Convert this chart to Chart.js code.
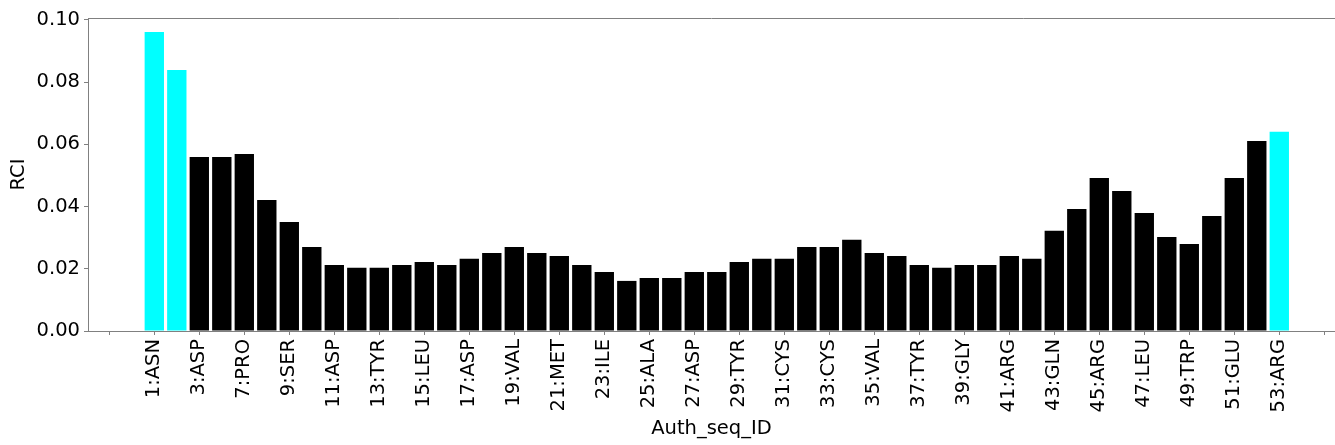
<!DOCTYPE html>
<html>
<head>
<meta charset="utf-8">
<script src="https://cdn.jsdelivr.net/npm/chart.js@4/dist/chart.umd.min.js"></script>
<style>
  html, body { margin: 0; padding: 0; background: #fff; }
  #rciChart { display: block; }
</style>
</head>
<body>
<canvas id="rciChart" width="1335" height="445"></canvas>
<script>
/* RCI per residue bar chart */
var rciValues = [
  0.0961, 0.0839, 0.0559, 0.0559, 0.0569, 0.0421, 0.0350, 0.0270, 0.0212, 0.0203,
  0.0203, 0.0212, 0.0222, 0.0212, 0.0232, 0.0251, 0.0270, 0.0251, 0.0241, 0.0212,
  0.0190, 0.0161, 0.0170, 0.0170, 0.0190, 0.0190, 0.0222, 0.0232, 0.0232, 0.0270,
  0.0270, 0.0293, 0.0251, 0.0241, 0.0212, 0.0203, 0.0212, 0.0212, 0.0241, 0.0232,
  0.0322, 0.0392, 0.0492, 0.0450, 0.0379, 0.0302, 0.0280, 0.0370, 0.0492, 0.0611,
  0.0640
];
// residues flagged in cyan (by bar index)
var highlighted = [0, 1, 50];
// labels shown on every other bar, starting at bar 0
var tickLabels = [
  '1:ASN', '3:ASP', '7:PRO', '9:SER', '11:ASP', '13:TYR', '15:LEU', '17:ASP',
  '19:VAL', '21:MET', '23:ILE', '25:ALA', '27:ASP', '29:TYR', '31:CYS', '33:CYS',
  '35:VAL', '37:TYR', '39:GLY', '41:ARG', '43:GLN', '45:ARG', '47:LEU', '49:TRP',
  '51:GLU', '53:ARG'
];
var xTicks = [];
for (var t = -2; t <= 52; t += 2) xTicks.push(t);
var yTicks = [0, 0.02, 0.04, 0.06, 0.08, 0.10];

var FONT = "'DejaVu Sans', sans-serif";
var FSIZE = 19.5;
var SPINE = '#808080';

var points = rciValues.map(function (v, i) { return { x: i, y: v }; });
var colors = rciValues.map(function (v, i) {
  return highlighted.indexOf(i) >= 0 ? '#00ffff' : '#000000';
});

var topSpine = {
  id: 'topSpine',
  afterDraw: function (chart) {
    var a = chart.chartArea, ctx = chart.ctx;
    ctx.save();
    ctx.strokeStyle = SPINE;
    ctx.lineWidth = 1;
    ctx.beginPath();
    ctx.moveTo(a.left, a.top + 0.5);
    ctx.lineTo(a.right, a.top + 0.5);
    ctx.stroke();
    ctx.restore();
  }
};

new Chart(document.getElementById('rciChart'), {
  type: 'bar',
  data: {
    datasets: [{
      data: points,
      backgroundColor: colors,
      borderWidth: 0,
      categoryPercentage: 1,
      barPercentage: 0.86
    }]
  },
  plugins: [topSpine],
  options: {
    responsive: false,
    animation: false,
    layout: { padding: { top: 18, left: 0, right: 0, bottom: 0 } },
    plugins: { legend: { display: false }, tooltip: { enabled: false } },
    scales: {
      x: {
        type: 'linear',
        min: -2.947,
        max: 52.476,
        offset: false,
        afterFit: function (s) {
          s.height = 114;
          s.paddingLeft = 0;
          s.paddingRight = 0;
        },
        afterBuildTicks: function (s) {
          s.ticks = xTicks.map(function (v) { return { value: v }; });
        },
        grid: { display: true, drawOnChartArea: false, offset: false, color: SPINE, tickLength: 4 },
        border: { display: true, color: SPINE, width: 1 },
        ticks: {
          autoSkip: false,
          maxRotation: 90,
          minRotation: 90,
          padding: 4,
          color: '#000',
          font: { family: FONT, size: FSIZE },
          callback: function (v) {
            var k = v / 2;
            return (v >= 0 && k < tickLabels.length) ? tickLabels[k] : '';
          }
        },
        title: { display: true, text: 'Auth_seq_ID', color: '#000', font: { family: FONT, size: FSIZE }, padding: { top: 0, bottom: 4 } }
      },
      y: {
        min: 0,
        max: 0.1006,
        afterFit: function (s) {
          s.width = 88;
          s.paddingTop = 0;
          s.paddingBottom = 0;
        },
        afterBuildTicks: function (s) {
          s.ticks = yTicks.map(function (v) { return { value: v }; });
        },
        grid: { display: true, drawOnChartArea: false, color: SPINE, tickLength: 4 },
        border: { display: true, color: SPINE, width: 1 },
        ticks: {
          padding: 4,
          color: '#000',
          font: { family: FONT, size: FSIZE },
          callback: function (v) { return v.toFixed(2); }
        },
        title: { display: true, text: 'RCI', color: '#000', font: { family: FONT, size: FSIZE }, padding: { top: 7, bottom: 0 } }
      }
    }
  }
});
</script>
</body>
</html>
